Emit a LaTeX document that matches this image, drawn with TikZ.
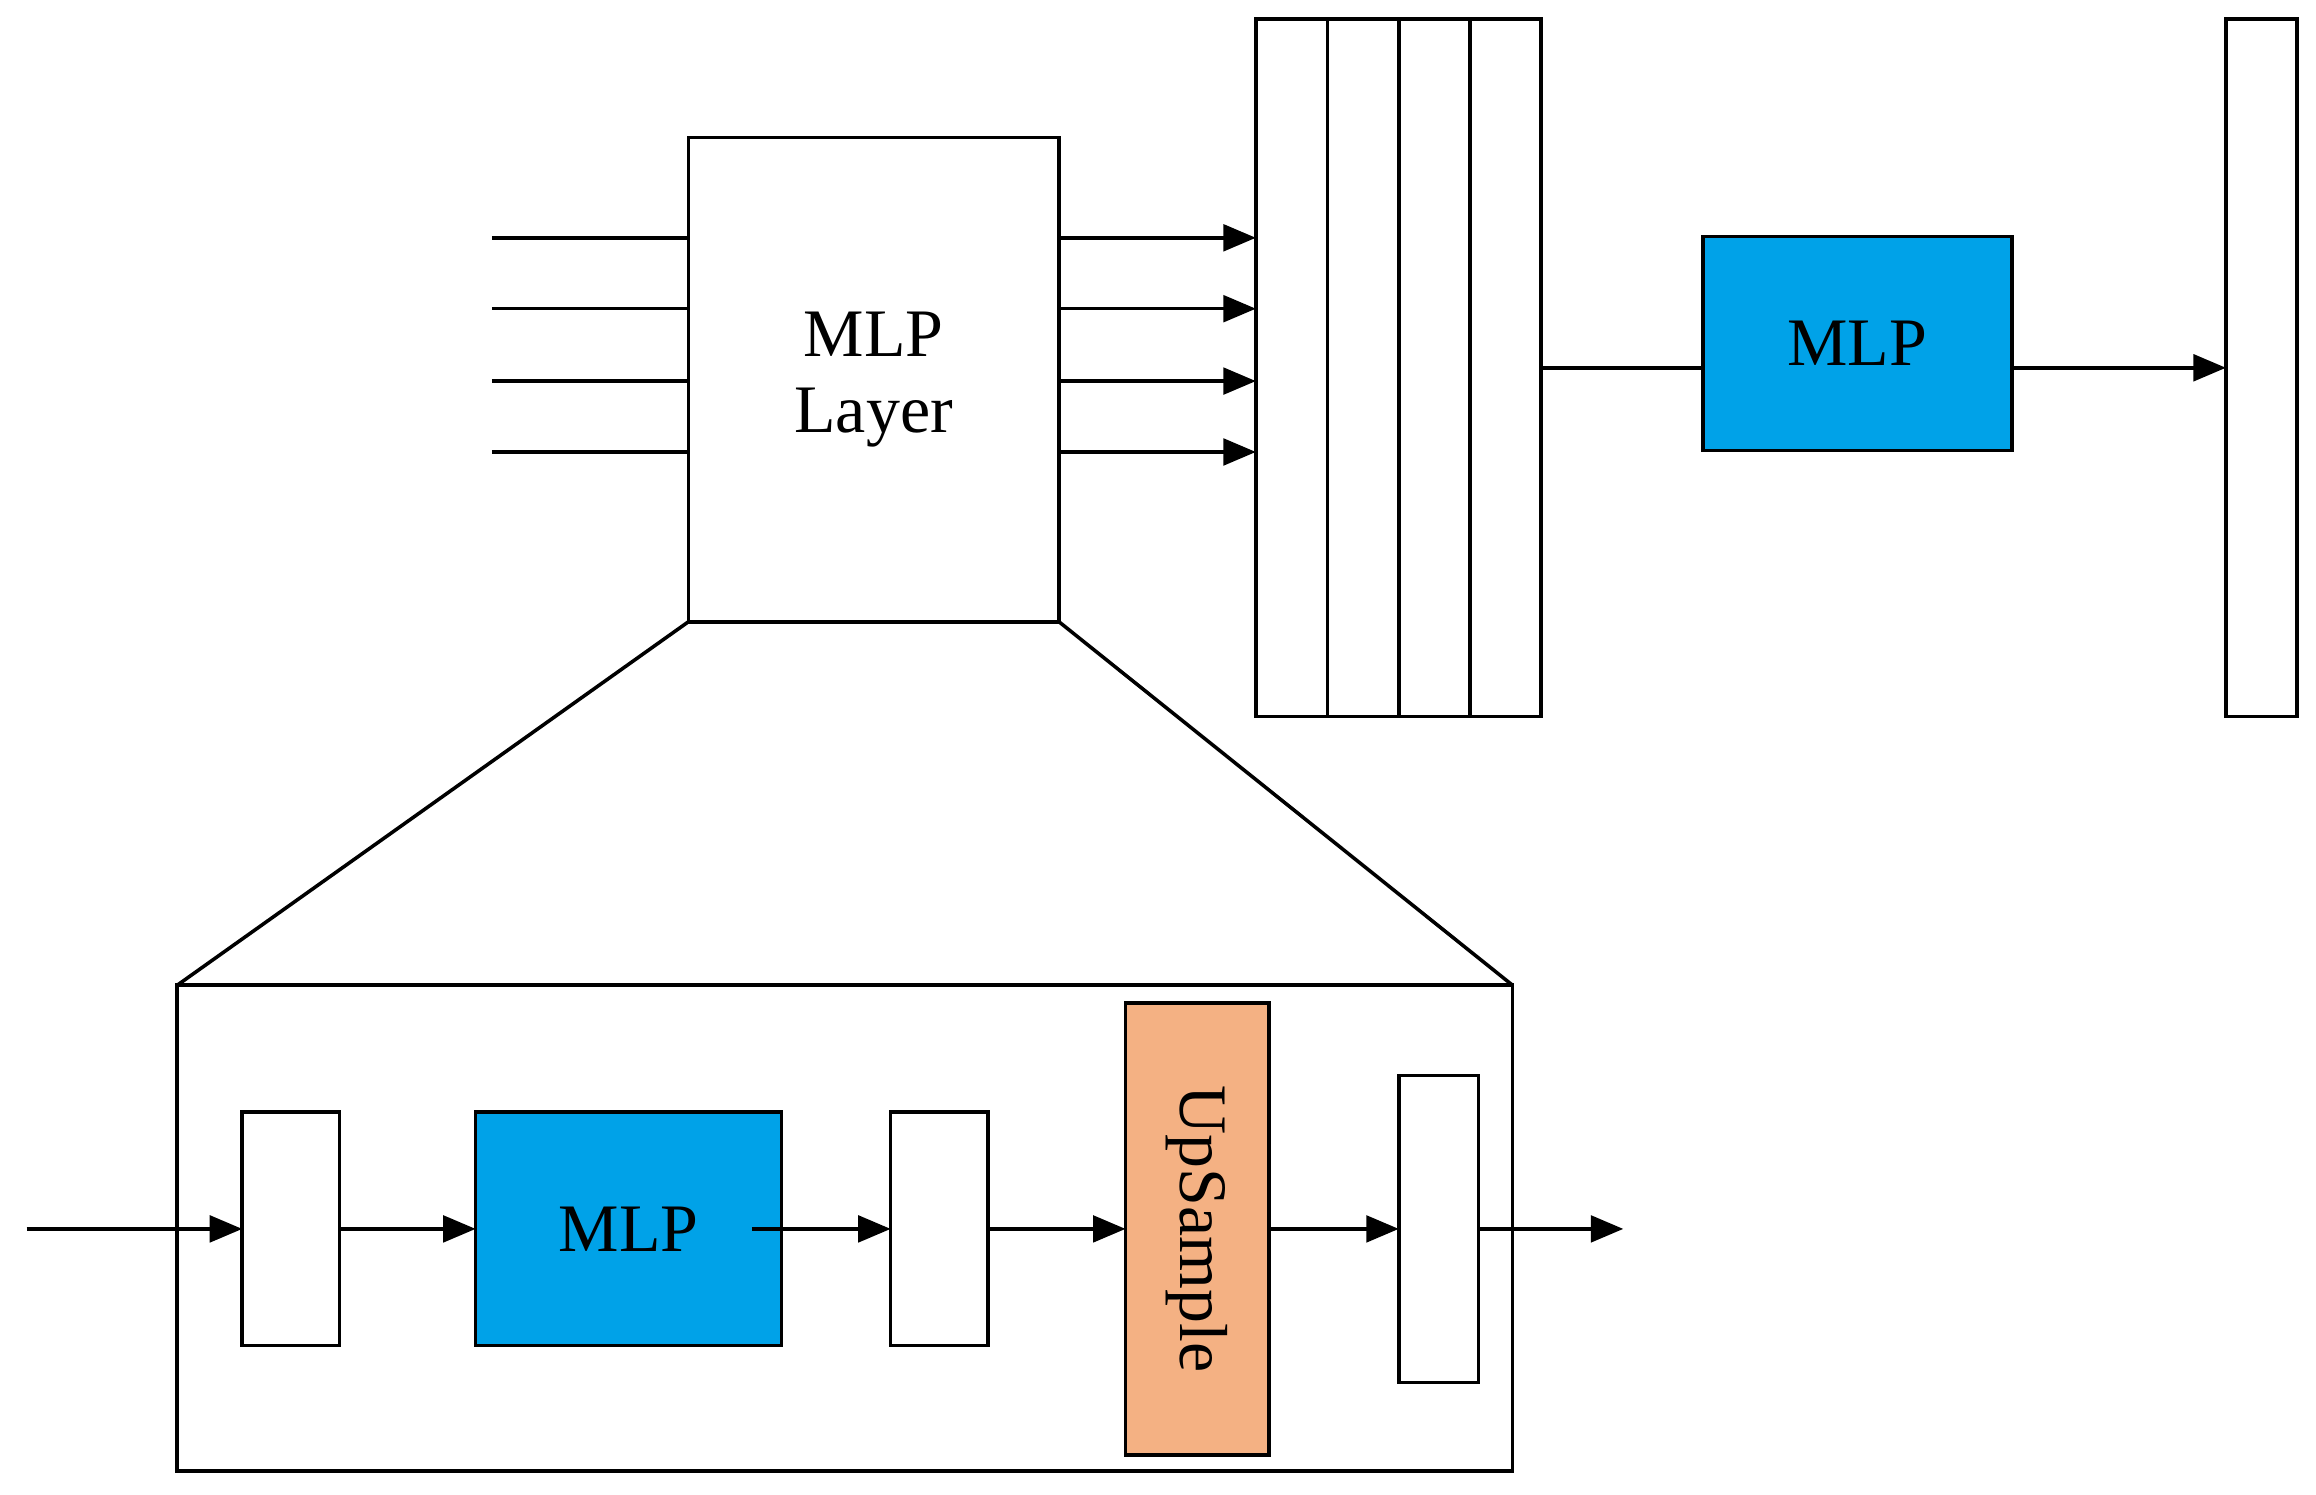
\documentclass[tikz,border=0pt]{standalone}
\usepackage{fontspec}
\setmainfont{Liberation Serif}
\usetikzlibrary{arrows.meta}
\definecolor{mblue}{RGB}{0,162,232}
\definecolor{morange}{RGB}{244,177,131}
\begin{document}
\begin{tikzpicture}[x=1pt,y=-1pt,line width=2.4pt,
  box/.style={draw,inner sep=0,outer sep=0,font=\fontsize{46}{52}\selectfont,align=center},
  arr/.style={-{Triangle[length=22pt,width=18pt]}}]
\useasboundingbox (0,0) rectangle (1568,1012);
\newcommand\bx[6]{\node[box,minimum width=#4-#2,minimum height=#5-#3,#6] (#1) at ({(#2+#4)/2},{(#3+#5)/2}) {};}
\node[box,minimum width=251,minimum height=328] (ml) at (591.5,257) {MLP\\Layer};
\foreach \i/\c in {1/874.5,2/923,3/971,4/1019}{\node[box,minimum width=48.5,minimum height=472] (s\i) at (\c,249) {};}
\node[box,fill=mblue,minimum width=209,minimum height=145] (m1) at (1257.5,232.5) {MLP};
\node[box,minimum width=48,minimum height=472] (r) at (1531,249) {};
\foreach \y [count=\k] in {161,209,258,306}{
  \coordinate (in\k) at (333,\y);
  \draw (in\k) -- (ml.west |- in\k);
  \draw[arr] (ml.east |- in\k) -- (s1.west |- in\k);}
\draw (s4.east |- 0,249) -- (m1.west |- 0,249);
\draw[arr] (m1.east |- 0,249) -- (r.west |- 0,249);
\node[box,minimum width=904,minimum height=329] (big) at (572,831.5) {};
\draw (ml.south west) -- (big.north west);
\draw (ml.south east) -- (big.north east);
\node[box,minimum width=66,minimum height=158] (b1) at (197,832) {};
\node[box,fill=mblue,minimum width=207,minimum height=158] (m2) at (425.5,832) {MLP};
\node[box,minimum width=66,minimum height=158] (b3) at (636,832) {};
\node[box,fill=morange,minimum width=97,minimum height=306] (up) at (810.5,832) {};
\node[font=\fontsize{46}{52}\selectfont,rotate=-90] at (up.center) {UpSample};
\node[box,minimum width=54,minimum height=208] (b5) at (974,832) {};
\coordinate (st) at (18,832);
\coordinate (en) at (1099,832);
\draw[arr] (st) -- (b1.west);
\draw[arr] (b1.east) -- (m2.west);
\draw[arr] ([xshift=-20pt]m2.east) -- (b3.west);
\draw[arr] (b3.east) -- (up.west);
\draw[arr] (up.east) -- (b5.west);
\draw[arr] (b5.east) -- (en);
\end{tikzpicture}
\end{document}
